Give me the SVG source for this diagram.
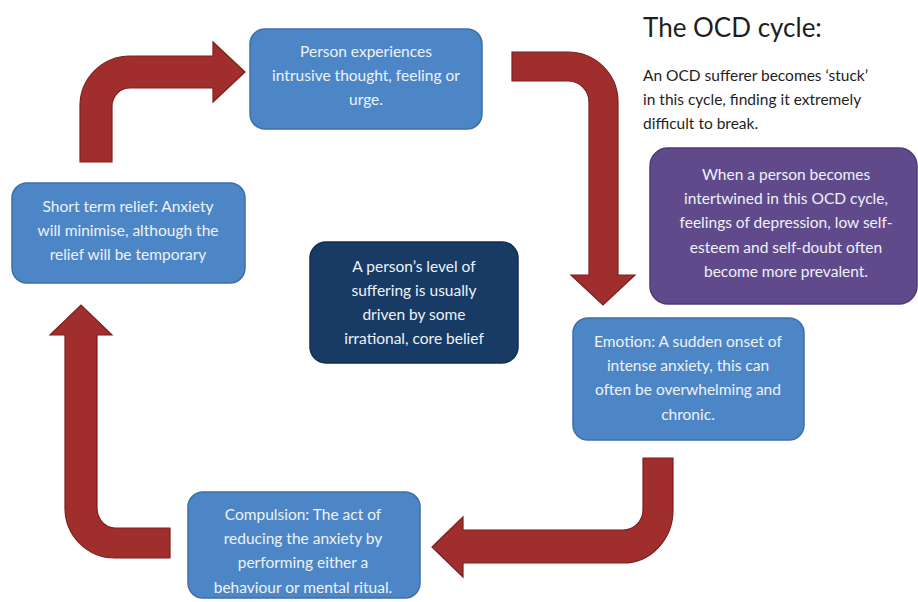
<svg xmlns="http://www.w3.org/2000/svg" width="918" height="602" viewBox="0 0 918 602">
<style>
.bx{stroke-width:1.5}
.blue{fill:#4d86c7;stroke:#3d6fa8}
.navy{fill:#183b65;stroke:#122e50}
.purple{fill:#614a8c;stroke:#4f3b75}
.t{font-family:Lato,"Open Sans","Liberation Sans",sans-serif;font-size:15.5px;fill:#eef2f8;text-anchor:middle}
.arr{fill:#a02e2d;stroke:#7c1f1f;stroke-width:1.2;stroke-linejoin:miter}
.h{font-family:Lato,"Open Sans","Liberation Sans",sans-serif;fill:#1e1e1e}
</style>
<rect width="918" height="602" fill="#ffffff"/>
<g id="connectors">
<path class="arr" d="M80,162 L80,106 A50,50 0 0 1 130,56 L213,56 L213,42 L245,72 L213,102 L213,88 L130,88 A18,18 0 0 0 112,106 L112,162 Z"/>
<path class="arr" d="M512,52 L568,52 A50,50 0 0 1 618,102 L618,275 L635,275 L603,305 L571,275 L589,275 L589,102 A21,21 0 0 0 568,81 L512,81 Z"/>
<path class="arr" d="M673,458 L673,510 A50,53 0 0 1 623,563 L463,563 L463,577 L432,547 L463,517 L463,530 L623,530 A20,20 0 0 0 643,510 L643,458 Z"/>
<path class="arr" d="M170,558 L115,558 A50,50 0 0 1 65,508 L65,335 L50,335 L81,305 L112,335 L97,335 L97,508 A18,20 0 0 0 115,528 L170,528 Z"/>
</g>
<g id="title">
<text class="h" x="643" y="37" font-size="26">The OCD cycle:</text>
<text class="h" x="643" y="81" font-size="15.5">An OCD sufferer becomes ‘stuck’</text>
<text class="h" x="643" y="105" font-size="15.5">in this cycle, finding it extremely</text>
<text class="h" x="643" y="129" font-size="15.5">difficult to break.</text>
</g>
<g id="node-thought">
<rect class="bx blue" x="250" y="29" width="232" height="100" rx="15"/>
<text class="t" x="366" y="57">Person experiences</text>
<text class="t" x="366" y="81">intrusive thought, feeling or</text>
<text class="t" x="366" y="105">urge.</text>
</g>
<g id="node-relief">
<rect class="bx blue" x="12" y="183" width="233" height="100" rx="15"/>
<text class="t" x="128" y="212">Short term relief: Anxiety</text>
<text class="t" x="128" y="236">will minimise, although the</text>
<text class="t" x="128" y="260">relief will be temporary</text>
</g>
<g id="node-belief">
<rect class="bx navy" x="310" y="242" width="208" height="121" rx="16"/>
<text class="t" x="414" y="272">A person’s level of</text>
<text class="t" x="414" y="296">suffering is usually</text>
<text class="t" x="414" y="320">driven by some</text>
<text class="t" x="414" y="344">irrational, core belief</text>
</g>
<g id="node-depression">
<rect class="bx purple" x="650" y="148" width="267" height="156" rx="18"/>
<text class="t" x="786" y="180">When a person becomes</text>
<text class="t" x="786" y="204">intertwined in this OCD cycle,</text>
<text class="t" x="786" y="228">feelings of depression, low self-</text>
<text class="t" x="786" y="253">esteem and self-doubt often</text>
<text class="t" x="786" y="277">become more prevalent.</text>
</g>
<g id="node-emotion">
<rect class="bx blue" x="573" y="318" width="231" height="122" rx="15"/>
<text class="t" x="688" y="347">Emotion: A sudden onset of</text>
<text class="t" x="688" y="371">intense anxiety, this can</text>
<text class="t" x="688" y="395">often be overwhelming and</text>
<text class="t" x="688" y="420">chronic.</text>
</g>
<g id="node-compulsion">
<rect class="bx blue" x="188" y="492" width="232" height="106" rx="15"/>
<text class="t" x="303" y="520">Compulsion: The act of</text>
<text class="t" x="303" y="544">reducing the anxiety by</text>
<text class="t" x="303" y="568">performing either a</text>
<text class="t" x="303" y="593">behaviour or mental ritual.</text>
</g>
</svg>
